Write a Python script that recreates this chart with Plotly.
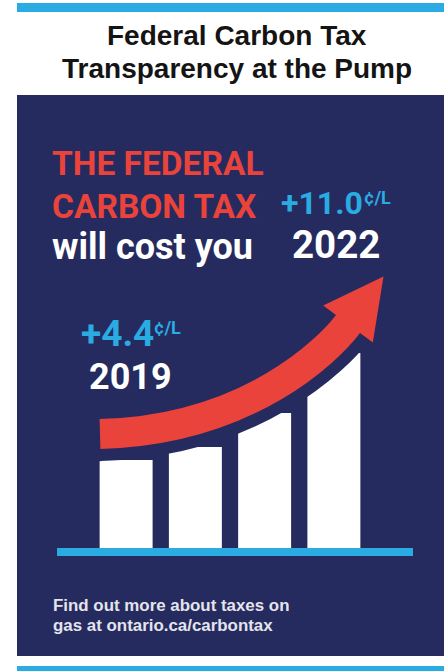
import plotly.graph_objects as go

# ---- data ----
years = ["2019", "2020", "2021", "2022"]
bar_heights = [88, 101, 135, 195]          # visible bar heights (px units of the illustration)
tax_first = 4.4                              # cents per litre, 2019
tax_last = 11.0                              # cents per litre, 2022
title_lines = ["Federal Carbon Tax", "Transparency at the Pump"]
headline = ["THE FEDERAL", "CARBON TAX"]
subline = "will cost you"
footer_lines = ["Find out more about taxes on", "gas at ontario.ca/carbontax"]

# ---- style ----
NAVY = "#252b5e"
RED = "#e9433b"
CYAN = "#2aabe2"
WHITE = "#ffffff"
W, H = 444, 671

fig = go.Figure()

fig.add_trace(go.Bar(
    x=years, y=bar_heights, xaxis="x2", yaxis="y2",
    marker=dict(color=WHITE, line=dict(width=0)),
    hoverinfo="skip", showlegend=False,
))

shapes = []
shapes.append(dict(type="rect", xref="x", yref="y", x0=17, x1=W, y0=95, y1=656,
                   fillcolor=NAVY, line=dict(width=0), layer="below"))
shapes.append(dict(type="rect", xref="x", yref="y", x0=17, x1=W, y0=3, y1=12,
                   fillcolor=CYAN, line=dict(width=0), layer="below"))
shapes.append(dict(type="rect", xref="x", yref="y", x0=17, x1=W, y0=666, y1=H,
                   fillcolor=CYAN, line=dict(width=0), layer="below"))
shapes.append(dict(type="rect", xref="x", yref="y", x0=57, x1=413, y0=548, y1=556,
                   fillcolor=CYAN, line=dict(width=0), layer="above"))

curve = "M100,434 C250,430 330,348 348,324"
head = "M323.2,305.4 L383.5,276.5 L372.8,342.6 Z"
shapes.append(dict(type="path", xref="x", yref="y", path="M88,435 L100,434 C250,430 330,348 348,324 L353,317",
                   line=dict(color=NAVY, width=54), fillcolor="rgba(0,0,0,0)", layer="above"))
shapes.append(dict(type="path", xref="x", yref="y", path=head,
                   line=dict(color=NAVY, width=22), fillcolor=NAVY, layer="above"))
shapes.append(dict(type="path", xref="x", yref="y", path=curve + " L353,317",
                   line=dict(color=RED, width=30), fillcolor="rgba(0,0,0,0)", layer="above"))
shapes.append(dict(type="path", xref="x", yref="y", path=head,
                   line=dict(color=RED, width=0), fillcolor=RED, layer="above"))

ann = []
def txt(x, y, s, size, color, family="Liberation Sans", weight="bold", xanchor="left"):
    ann.append(dict(xref="x", yref="y", x=x, y=y, text=s, showarrow=False,
                    xanchor=xanchor, yanchor="middle", borderpad=0, borderwidth=0,
                    font=dict(family=family, size=size, color=color, weight=weight)))

txt(237, 35.5, title_lines[0], 28, "#141414", xanchor="center")
txt(237, 68.5, title_lines[1], 28, "#141414", xanchor="center")
txt(52, 163.5, headline[0], 33.5, RED, family="Roboto")
txt(52, 206, headline[1], 33.5, RED, family="Roboto")
txt(52, 246.5, subline, 36, WHITE, family="Roboto")
txt(281, 203, f"+{tax_last:.1f}", 32, CYAN, family="Roboto")
txt(364, 197.5, "¢/L", 18, CYAN, family="Roboto")
txt(292, 244.5, years[-1], 38.5, WHITE, family="Roboto")
txt(81, 333.5, f"+{tax_first:.1f}", 37, CYAN, family="Roboto")
txt(154, 327.6, "¢/L", 18, CYAN, family="Roboto")
txt(89, 377, years[0], 36, WHITE, family="Roboto")
txt(53, 605.2, footer_lines[0], 16.9, "#e4e4ec")
txt(53, 625.2, footer_lines[1], 16.9, "#e4e4ec")

fig.update_layout(
    width=W, height=H, margin=dict(l=0, r=0, t=0, b=0),
    paper_bgcolor=WHITE, plot_bgcolor="rgba(0,0,0,0)",
    xaxis=dict(range=[0, W], visible=False, domain=[0, 1], fixedrange=True),
    yaxis=dict(range=[H, 0], visible=False, domain=[0, 1], fixedrange=True),
    xaxis2=dict(domain=[91.5 / W, 368.5 / W], anchor="y2", visible=False,
                type="category", fixedrange=True),
    yaxis2=dict(domain=[1 - 548 / H, 1], range=[0, 548], anchor="x2",
                visible=False, fixedrange=True),
    bargap=0.235,
    shapes=shapes, annotations=ann, showlegend=False,
)

fig.write_html(
    "out.html",
    config={"displayModeBar": False, "staticPlot": True},
    post_script="document.body.style.margin='0';document.body.style.overflow='hidden';",
)
